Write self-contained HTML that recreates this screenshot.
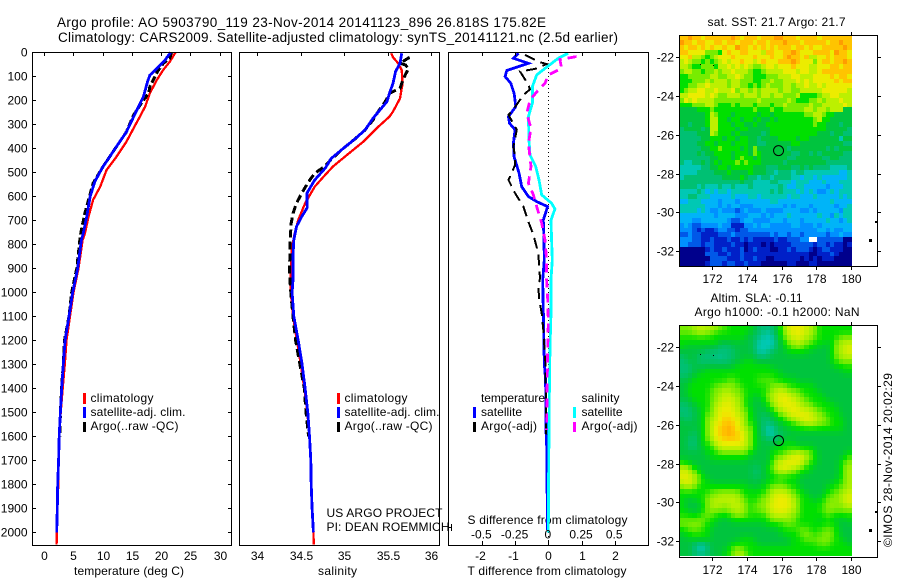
<!DOCTYPE html>
<html lang="en">
<head>
<meta charset="utf-8">
<title>Argo profile AO 5903790_119</title>
<style>
html,body{margin:0;padding:0;background:#fff;width:900px;height:580px;overflow:hidden}
svg{display:block;font-family:"Liberation Sans",sans-serif;font-size:12px;fill:#000}
.frame{fill:none;stroke:#000;stroke-width:1;shape-rendering:crispEdges}
.mark{fill:none;shape-rendering:crispEdges;stroke-linejoin:miter}
.tick{stroke:#000;stroke-width:1;shape-rendering:crispEdges}
.bar{shape-rendering:crispEdges}
</style>
</head>
<body>
<svg id="chart" xmlns="http://www.w3.org/2000/svg" width="900" height="580" viewBox="0 0 900 580">
  <rect x="0" y="0" width="900" height="580" fill="#fff"/>

  <text x="57" y="27" font-size="13.5" textLength="489" lengthAdjust="spacing">Argo profile: AO 5903790_119 23-Nov-2014 20141123_896 26.818S 175.82E</text>
  <text x="58" y="42" font-size="13.5" textLength="560" lengthAdjust="spacing">Climatology: CARS2009. Satellite-adjusted climatology: synTS_20141121.nc (2.5d earlier)</text>

  <g>
    <rect class="bar" x="83" y="393" width="3" height="11" fill="#ff0000"/>
    <rect class="bar" x="83" y="407" width="3" height="11" fill="#0000ff"/>
    <rect class="bar" x="83" y="422" width="3" height="10" fill="#000"/>
    <text x="90.5" y="402" textLength="63" lengthAdjust="spacing">climatology</text>
    <text x="90.5" y="416" textLength="95" lengthAdjust="spacing">satellite-adj. clim.</text>
    <text x="90.5" y="430" textLength="88" lengthAdjust="spacing">Argo(..raw -QC)</text>
  </g>
  <g>
    <rect class="bar" x="337" y="393" width="3" height="11" fill="#ff0000"/>
    <rect class="bar" x="337" y="407" width="3" height="11" fill="#0000ff"/>
    <rect class="bar" x="337" y="422" width="3" height="10" fill="#000"/>
    <text x="344.5" y="402" textLength="63" lengthAdjust="spacing">climatology</text>
    <text x="344.5" y="416" textLength="95" lengthAdjust="spacing">satellite-adj. clim.</text>
    <text x="344.5" y="430" textLength="88" lengthAdjust="spacing">Argo(..raw -QC)</text>
    <text x="326.5" y="517" textLength="116" lengthAdjust="spacing">US ARGO PROJECT</text>
    <text x="326.5" y="531" textLength="123" lengthAdjust="spacing">PI: DEAN ROEMMICH</text>
  </g>
  <g>
    <text x="481" y="402" textLength="64" lengthAdjust="spacing">temperature</text>
    <text x="481" y="416" textLength="41" lengthAdjust="spacing">satellite</text>
    <text x="481" y="430" textLength="56" lengthAdjust="spacing">Argo(-adj)</text>
    <text x="581.5" y="402" textLength="38" lengthAdjust="spacing">salinity</text>
    <text x="581.5" y="416" textLength="41" lengthAdjust="spacing">satellite</text>
    <text x="581.5" y="430" textLength="56" lengthAdjust="spacing">Argo(-adj)</text>
    <rect class="bar" x="473" y="407" width="3" height="11" fill="#0000ff"/>
    <rect class="bar" x="473" y="422" width="3" height="10" fill="#000"/>
    <rect class="bar" x="573" y="407" width="3" height="11" fill="#00ffff"/>
    <rect class="bar" x="573" y="422" width="3" height="10" fill="#ff00ff"/>
  </g>

  <text x="467.5" y="524" textLength="160" lengthAdjust="spacing">S difference from climatology</text>
  <text x="74" y="575" textLength="110" lengthAdjust="spacing">temperature (deg C)</text>
  <text x="318" y="575" textLength="39" lengthAdjust="spacing">salinity</text>
  <text x="467.5" y="575" textLength="159" lengthAdjust="spacing">T difference from climatology</text>

  <text x="707.5" y="26" textLength="138" lengthAdjust="spacing">sat. SST: 21.7 Argo: 21.7</text>
  <text x="710.5" y="302" textLength="92" lengthAdjust="spacing">Altim. SLA: -0.11</text>
  <text x="694.5" y="316" textLength="165" lengthAdjust="spacing">Argo h1000: -0.1 h2000: NaN</text>
  <text transform="translate(892 547) rotate(-90)" x="0" y="0" textLength="174" lengthAdjust="spacing">©IMOS 28-Nov-2014 20:02:29</text>

  <g id="marks"></g>
</svg>

<script>
/* ---------- temperature profiles ---------- */
const climTDepth = [0,39,73,115,170,226,268,317,372,435,490,560,615,685,755,782,900,1000,1100,1200,1300,1400,1500,1600,1700,1800,1900,2000,2050];
const climT = [22.5,21.5,20.4,19.3,18.1,17.3,16.4,15.3,14.1,12.4,10.7,9.6,8.4,7.6,7.0,6.6,5.9,5.05,4.45,3.85,3.55,3.2,2.85,2.6,2.5,2.45,2.28,2.17,2.15];
const satTDepth = [0,32,67,95,123,185,254,331,393,476,538,600,685,755,782,900,1000,1100,1200,1300,1400,1500,1600,1700,1800,1900,2000];
const satT = [21.65,20.7,19.3,18.1,17.7,17,15.6,14.1,12.4,10.1,8.7,7.9,7.3,6.7,6.4,5.76,4.9,4.27,3.6,3.3,3.02,2.8,2.6,2.5,2.34,2.28,2.17];
const argoTDepth = [0,25,46,80,143,170,200,262,331,393,476,504,546,615,670,740,775,900,1000,1100,1200,1300,1400,1500,1600];
const argoT = [21.8,21.5,20.4,19.4,18.1,17.9,17,15.3,14.1,12.4,10.1,9.4,8.4,7.6,7,6.4,6.15,5.6,4.73,4.27,3.5,3.3,3.0,2.8,2.7];

/* ---------- salinity profiles ---------- */
const climSDepth = [4,21,46,74,129,192,247,268,317,372,428,476,511,560,629,699,754,810,865,949,1000,1100,1200,1300,1400,1500,1600,1700,1800,1900,2000,2050];
const climS = [35.54,35.56,35.62,35.66,35.67,35.64,35.56,35.52,35.37,35.22,35.03,34.87,34.78,34.66,34.55,34.47,34.43,34.40,34.39,34.38,34.385,34.41,34.455,34.5,34.54,34.575,34.6,34.615,34.62,34.63,34.645,34.65];
const satSDepth = [4,46,80,129,171,206,240,275,323,362,400,442,483,532,587,622,647,685,726,782,851,949,1000,1100,1200,1300,1400,1500,1600,1700,1800,1900,2000];
const satS = [35.66,35.64,35.59,35.56,35.52,35.49,35.41,35.33,35.24,35.12,34.99,34.85,34.78,34.66,34.57,34.57,34.575,34.51,34.45,34.42,34.41,34.41,34.40,34.42,34.47,34.515,34.55,34.58,34.60,34.615,34.62,34.63,34.645];
const argoSDepth = [21,46,52,67,94,129,150,171,206,247,282,323,362,400,449,474,504,539,587,629,671,712,768,837,920,1000,1100,1200,1300,1400,1500,1600];
const argoS = [35.75,35.64,35.70,35.74,35.70,35.66,35.64,35.52,35.47,35.39,35.33,35.24,35.12,34.99,34.84,34.78,34.66,34.59,34.51,34.45,34.41,34.39,34.38,34.375,34.37,34.385,34.41,34.44,34.49,34.54,34.56,34.59];

/* ---------- difference profiles ---------- */
const diffTSatDepth = [4,25,46,76,101,129,171,226,268,296,323,379,435,504,560,601,622,643,699,782,865,949,1157,1296,1366,1574,1671,1990];
const diffTSat = [-0.9,-1.05,-0.6,-1.25,-1.3,-1.13,-1.03,-0.98,-1.2,-1.17,-1.0,-1.05,-1.03,-0.88,-0.8,-0.6,-0.35,-0.02,-0.15,-0.13,-0.12,-0.17,-0.14,-0.12,-0.08,-0.07,-0.04,-0.03];
const diffTArgoDepth = [11,39,49,69,80,136,154,178,247,261,323,393,435,469,532,587,643,706,761,837,942,977,1032,1087,1157,1310,1490,1608];
const diffTArgo = [-0.7,-0.3,-0.05,-0.4,-0.85,-0.6,-0.55,-0.75,-1.1,-1.2,-0.95,-1.05,-1,-1,-1.2,-1,-0.75,-0.6,-0.45,-0.3,-0.25,-0.3,-0.27,-0.2,-0.15,-0.08,-0.07,-0.06];
const diffSSatDepth = [4,25,67,94,143,212,268,365,428,476,532,594,629,653,699,782,865,946,1087,1226,1435,1782,2000];
const diffSSat = [0.15,0.075,-0.025,-0.0875,-0.12,-0.12,-0.15,-0.145,-0.1375,-0.095,-0.07,-0.05,0.025,0.05,0.02,0.025,0.03,0.02,0.02,0.0125,0.0075,0.0025,0];
const diffSArgoDepth = [18,30,67,94,129,157,199,254,317,379,476,546,594,657,712,782,865,946,1018,1120,1260,1435,1574];
const diffSArgo = [0.2125,0.0875,0.1,0,-0.025,-0.075,-0.1375,-0.1625,-0.13,-0.15,-0.13,-0.15,-0.1125,-0.08,-0.05,-0.025,-0.0125,-0.0125,-0.005,0,-0.005,-0.01,-0.0125];

/* ---------- tick labels ---------- */
const depthTicks = [0,100,200,300,400,500,600,700,800,900,1000,1100,1200,1300,1400,1500,1600,1700,1800,1900,2000];
const tempTicks = [0,5,10,15,20,25,30];
const salTicks = [34,34.5,35,35.5,36];
const diffTTicks = [-2,-1,0,1,2];
const diffSTicks = [-0.5,-0.25,0,0.25,0.5];
const lonTicks = [172,174,176,178,180];
const latTicks = [-22,-24,-26,-28,-30,-32];

/* ---------- float position ---------- */
const floatLon = 175.82;
const floatLat = -26.818;

/* ---------- colour levels for both maps, low to high, as r,g,b ---------- */
const levelColors = [[0,0,140],[0,32,200],[0,88,232],[0,144,255],[0,180,248],[0,200,180],[0,192,115],[0,196,62],[0,224,0],[120,236,0],[188,240,0],[236,236,0],[255,196,0],[255,156,0]];

/* ---------- SST map levels, north to south, west to east ---------- */
const sstGrid = [
[12,12,13,12,12,11,12,12,12,12,12,12,13,12,11,12,12,12,11,12,12,12,13,13,12,12,12,11,12,12,12,12,11,12,12,12,12,12,12,12],
[13,12,12,11,12,12,11,11,12,12,11,12,12,11,12,12,12,11,12,12,11,12,12,12,13,12,12,12,11,12,12,12,12,12,11,12,12,13,12,12],
[12,11,12,12,11,12,11,12,11,11,12,11,11,13,12,12,11,12,11,12,11,12,11,12,12,12,11,12,12,11,12,11,11,12,12,12,12,12,13,12],
[12,12,11,11,11,11,9,9,9,8,11,12,11,11,12,12,11,11,11,10,12,12,11,11,12,12,13,12,11,11,11,12,12,12,12,11,13,12,12,11],
[11,11,12,10,10,9,8,9,10,11,11,11,12,11,11,11,11,12,11,11,11,12,11,11,12,13,12,12,11,12,10,10,11,11,12,11,12,12,12,11],
[10,11,10,9,9,8,9,8,9,10,11,10,11,11,12,11,11,10,11,12,11,11,11,12,12,12,13,12,11,11,11,9,11,12,12,11,12,12,13,12],
[10,10,9,8,8,9,9,9,8,10,10,11,10,11,10,11,10,9,9,10,11,11,10,11,11,11,12,11,11,11,10,10,11,11,11,12,12,11,12,12],
[9,10,10,9,9,8,9,9,10,9,10,10,11,10,10,10,9,8,8,9,10,10,10,10,11,11,11,10,11,11,10,10,11,12,12,12,12,12,12,12],
[8,8,9,9,9,9,9,10,10,9,9,10,10,11,10,9,9,8,8,8,9,9,9,10,10,10,11,11,10,10,10,11,11,11,11,12,11,12,12,11],
[8,8,8,9,9,9,10,9,10,10,10,9,10,10,9,9,9,8,8,9,9,10,9,9,10,10,10,11,10,11,10,11,11,11,11,11,12,11,12,12],
[8,8,9,9,10,10,11,10,10,10,10,9,10,10,9,9,8,9,8,9,10,9,9,9,10,10,9,10,10,11,10,10,11,10,11,11,11,11,11,11],
[8,9,10,10,11,11,10,10,11,10,10,10,11,9,10,10,9,10,9,10,10,10,10,9,10,10,9,9,10,10,10,10,10,11,11,11,11,11,11,10],
[10,10,11,11,11,11,10,11,10,9,9,10,10,10,9,10,10,10,9,10,10,9,10,10,9,9,9,10,8,8,8,8,9,10,10,11,11,10,10,10],
[9,11,10,11,10,10,10,10,9,9,9,9,9,9,9,9,9,9,10,9,9,9,9,9,9,10,9,8,8,8,9,9,10,9,10,10,10,11,10,10],
[8,8,8,9,9,9,10,10,9,8,8,8,9,8,9,9,9,8,9,9,9,8,9,9,10,9,9,9,9,9,10,9,9,10,10,10,10,10,11,10],
[7,7,7,7,8,8,8,9,8,8,8,8,8,8,8,8,8,9,8,8,8,9,8,8,9,9,9,9,9,10,10,9,10,10,9,10,10,10,7,7],
[7,7,7,7,7,7,8,10,9,8,8,8,7,8,8,8,8,8,7,8,8,7,8,8,8,8,8,8,8,9,9,10,10,9,8,8,7,7,7,7],
[7,7,7,7,7,7,8,10,10,8,8,7,8,8,7,8,8,7,8,7,7,8,7,8,8,8,8,8,8,8,8,9,10,8,8,7,7,7,7,7],
[7,7,6,7,7,7,8,10,10,8,8,8,7,8,8,7,7,8,7,7,8,8,8,8,8,8,8,8,8,8,8,9,8,8,7,7,7,6,7,7],
[6,7,7,7,7,6,7,10,10,8,8,8,8,7,8,8,7,7,7,7,7,8,8,8,8,8,8,8,8,8,8,8,8,8,7,7,7,7,7,6],
[6,6,6,6,7,7,7,10,9,8,8,8,7,8,7,7,7,7,7,6,7,8,8,8,8,8,8,8,8,8,8,8,7,7,7,6,7,7,6,6],
[6,6,6,6,6,7,7,8,8,8,7,8,8,7,8,8,7,7,6,7,7,7,7,8,8,8,8,7,8,8,7,7,7,7,7,7,7,5,7,7],
[6,6,6,6,7,7,8,8,7,8,8,8,7,8,8,8,7,7,6,6,7,7,7,7,7,7,8,8,7,7,7,7,7,7,7,7,7,7,6,6],
[6,6,6,6,6,7,7,8,8,9,8,8,8,8,7,8,7,9,7,7,7,7,7,7,7,6,7,7,7,7,7,7,7,7,6,7,6,7,7,7],
[6,6,6,6,7,6,7,7,8,8,8,8,7,8,8,8,7,9,8,7,7,7,7,7,7,7,6,6,7,7,6,7,6,7,7,7,7,7,6,6],
[6,6,6,6,6,6,6,7,7,8,8,8,7,8,9,8,8,7,8,7,7,7,7,7,7,6,6,7,7,7,7,7,7,6,6,7,7,6,6,6],
[6,5,5,6,6,7,6,7,8,7,8,8,8,9,8,9,8,8,8,7,7,7,7,7,6,7,7,7,7,7,7,7,7,7,6,6,6,6,6,6],
[5,5,5,5,5,6,6,7,7,8,8,7,8,8,8,8,8,7,7,7,6,6,6,7,7,7,6,6,7,6,7,6,6,6,6,5,5,5,5,6],
[5,5,5,5,6,6,6,6,7,7,7,8,7,7,7,7,8,7,7,7,6,6,5,6,6,6,5,6,6,5,5,5,5,5,5,5,5,4,4,5],
[5,6,6,6,6,6,6,6,6,6,7,7,7,7,8,7,6,6,5,6,6,5,6,6,6,6,5,5,4,5,5,4,5,4,4,4,4,4,4,5],
[6,6,6,6,6,6,6,6,6,6,6,6,6,6,7,6,6,5,5,5,5,6,6,5,5,5,4,5,5,5,4,4,4,5,4,4,4,5,5,5],
[6,6,6,6,5,6,5,5,5,6,5,5,6,5,5,5,6,5,5,5,5,5,5,6,5,4,4,5,5,4,4,4,4,4,3,4,4,4,5,5],
[5,5,5,5,6,5,4,5,4,5,5,4,5,5,5,5,5,5,5,5,5,6,5,6,5,5,5,4,5,4,5,4,3,3,4,5,4,5,5,5],
[5,5,6,6,5,5,5,4,4,4,4,4,5,4,4,4,5,5,4,5,5,5,5,5,5,4,5,5,4,4,4,5,4,4,4,4,4,5,4,5],
[4,4,5,5,5,4,4,4,4,3,4,4,4,3,4,4,4,4,4,4,4,5,5,4,4,4,4,4,4,4,4,4,4,4,4,5,4,4,4,4],
[5,5,5,5,5,5,4,4,4,3,4,3,4,4,3,3,3,4,4,4,4,4,4,4,3,4,3,4,4,4,3,4,4,4,4,4,3,4,4,5],
[5,5,5,5,4,5,4,3,3,4,3,3,3,2,3,4,3,3,3,4,3,3,3,3,4,4,4,4,3,3,4,3,4,4,4,4,4,3,5,5],
[4,4,4,4,4,4,4,4,3,4,4,4,4,3,3,3,4,4,4,3,4,3,4,4,4,5,4,4,4,4,4,4,5,4,4,3,5,4,5,5],
[4,4,4,3,3,4,4,4,4,4,4,3,2,2,3,4,4,3,3,3,3,4,4,4,3,4,4,4,3,4,4,4,4,4,5,4,4,3,4,5],
[3,4,3,2,2,3,3,3,3,4,3,3,1,1,1,3,3,4,3,4,4,3,3,3,3,3,4,4,3,3,3,4,3,4,4,4,4,4,4,4],
[3,3,3,2,1,2,1,1,2,3,3,2,2,1,2,2,3,3,3,3,3,3,3,3,3,3,3,3,3,3,3,3,4,4,3,4,3,3,4,4],
[2,2,3,2,2,1,1,1,1,2,2,2,3,2,2,2,2,2,2,2,2,3,2,3,3,2,3,3,2,3,3,3,3,3,2,3,3,4,3,3],
[3,3,3,2,2,1,1,2,1,1,1,2,1,1,2,1,2,1,1,1,1,1,2,1,1,2,2,2,3,3,null,null,2,2,2,2,2,2,0,0],
[3,3,2,2,2,1,2,2,1,1,1,1,2,1,1,0,1,1,1,0,1,0,1,1,1,1,2,2,2,2,2,1,2,2,1,2,1,1,0,1],
[0,0,0,0,0,0,1,2,1,1,2,1,1,1,2,0,1,2,1,1,1,0,0,1,1,2,1,2,2,2,1,0,1,2,2,1,1,1,0,0],
[0,0,0,0,0,0,2,2,2,1,1,2,1,1,2,1,1,1,1,1,1,1,1,1,1,1,1,1,1,1,0,0,1,1,1,2,1,0,0,0],
[0,0,0,0,0,0,0,2,2,2,2,1,1,1,2,1,1,2,1,1,0,0,1,1,1,1,1,1,0,1,0,1,0,1,1,1,0,0,0,0],
[0,0,0,0,0,0,1,2,2,2,1,2,2,1,1,2,1,1,1,0,0,0,0,0,0,1,1,0,0,0,1,1,0,0,0,0,0,0,0,0]
];

/* ---------- sea level anomaly map levels, north to south, west to east ---------- */
const slaGrid = [
[9,9,9,10,10,10,10,10,10,9,9,8,8,8,8,8,8,7,6,6,6,6,7,8,10,11,11,11,11,10,10,9,8,8,8,8,8,8,8,8],
[9,9,9,9,10,10,9,9,8,8,8,8,8,8,8,8,7,7,6,6,5,6,7,8,9,10,11,11,11,10,10,9,8,8,8,8,8,8,8,8],
[8,8,8,8,8,8,8,8,8,8,8,8,8,8,8,7,7,6,6,5,5,5,6,8,9,10,10,11,10,10,9,9,8,8,8,8,8,9,9,9],
[8,8,8,8,8,8,8,8,8,7,7,7,7,7,7,7,7,6,5,5,5,5,6,7,8,9,10,10,10,9,9,8,8,8,7,8,9,10,10,10],
[8,7,7,7,7,7,7,7,7,6,6,6,7,7,7,7,7,6,5,5,5,5,6,7,8,8,9,9,9,8,8,8,7,7,7,8,9,10,10,11],
[7,7,7,7,7,7,6,6,6,6,6,6,6,7,7,7,7,6,5,5,6,6,7,7,7,8,8,8,8,8,7,7,7,7,7,8,9,10,10,11],
[6,7,7,7,6,6,6,6,6,5,6,6,6,7,7,7,7,7,6,6,6,7,7,7,7,7,7,7,7,7,7,7,7,7,7,8,9,10,10,10],
[6,6,7,7,6,6,6,6,6,6,6,6,7,7,7,8,8,7,7,7,7,7,7,7,7,7,7,7,7,7,7,7,7,7,7,8,8,9,9,9],
[6,6,6,7,7,7,7,7,7,7,7,7,7,8,8,8,8,8,8,8,8,7,7,7,7,7,7,7,7,7,7,7,7,7,7,7,8,8,8,8],
[6,6,6,7,7,7,8,8,8,8,8,8,8,8,8,8,8,8,8,8,8,8,8,7,7,7,7,7,7,7,7,7,7,7,7,7,7,7,8,8],
[6,6,7,7,8,8,8,8,8,8,8,8,8,8,8,8,8,8,8,8,8,8,8,8,7,7,7,7,7,7,7,7,7,7,7,7,7,7,7,7],
[7,7,7,8,8,8,8,8,8,8,8,9,9,8,8,8,8,8,9,9,9,9,8,8,8,8,8,7,7,7,7,7,7,7,7,7,7,7,7,7],
[7,7,8,8,8,8,8,8,9,9,9,9,9,9,8,8,8,8,8,8,8,9,9,9,9,8,8,8,8,8,8,7,7,7,7,7,7,7,7,7],
[7,7,8,8,8,8,8,9,9,9,10,10,9,9,9,8,8,8,8,8,9,9,10,10,10,9,9,9,8,8,8,8,7,7,7,7,7,7,7,7],
[7,7,8,8,8,8,8,9,9,10,10,10,10,9,9,8,8,7,8,8,9,10,10,11,11,10,10,9,9,8,8,8,8,7,7,7,7,7,7,7],
[7,7,7,8,8,8,8,9,9,10,10,11,10,10,9,8,8,7,7,8,9,10,10,11,11,11,10,10,9,9,8,8,8,8,7,7,7,7,7,7],
[6,6,7,7,8,8,8,9,10,10,11,11,10,10,9,8,7,7,7,7,8,9,10,11,11,11,11,10,10,9,9,8,8,8,8,8,7,7,7,7],
[6,6,6,7,7,8,8,9,10,11,11,11,11,10,9,9,8,7,7,7,8,8,9,10,10,11,11,11,10,10,10,9,9,8,8,8,8,7,7,7],
[6,6,6,7,7,8,9,9,10,11,11,11,11,10,10,9,8,7,7,6,7,7,8,9,10,10,11,11,11,11,10,10,9,9,8,8,8,7,7,7],
[7,6,6,7,7,8,9,10,10,11,12,12,11,11,10,9,8,7,7,6,6,7,7,8,8,9,10,10,11,11,11,10,10,9,9,8,8,8,7,7],
[7,7,7,7,7,8,9,10,11,11,12,12,12,11,10,9,8,8,7,6,6,6,7,7,8,8,8,9,9,10,10,10,9,9,9,8,8,8,7,7],
[7,7,7,7,7,8,9,10,11,12,12,13,12,11,10,10,9,8,7,6,5,5,6,7,7,7,8,8,8,8,8,8,8,8,8,8,8,8,7,7],
[7,7,7,6,7,8,9,10,11,12,12,13,12,12,11,10,9,8,7,6,5,5,6,6,7,7,7,7,7,7,7,7,7,7,7,7,7,7,7,7],
[7,7,6,6,7,8,9,10,11,11,12,12,12,12,11,10,9,8,7,7,6,6,6,7,7,7,7,7,7,7,7,7,7,7,7,7,7,7,7,7],
[7,7,6,6,7,8,8,9,10,11,11,11,11,11,11,10,9,8,7,7,7,7,7,7,8,8,8,7,7,7,7,7,7,7,7,7,7,7,7,7],
[7,7,6,6,7,7,8,8,9,10,10,10,10,10,10,10,9,8,7,7,7,7,8,8,8,8,8,8,8,8,8,7,7,7,7,7,7,7,7,7],
[7,7,7,7,7,7,8,8,8,9,9,9,9,9,9,9,8,7,7,7,7,8,8,8,9,9,10,10,10,9,9,8,7,7,7,7,7,7,7,8],
[7,7,7,7,7,7,7,8,8,8,8,8,8,8,8,8,7,7,7,7,7,8,9,9,10,10,11,11,11,10,9,8,7,7,7,7,7,7,8,9],
[8,8,7,7,7,7,7,7,7,7,7,7,7,7,7,7,7,7,7,7,7,8,10,10,11,11,11,11,10,9,8,8,7,7,7,7,7,8,9,9],
[10,10,9,8,7,7,7,7,7,7,7,7,7,7,7,7,7,6,7,7,8,9,10,11,11,11,10,10,9,8,8,7,7,7,7,7,7,8,9,10],
[10,11,10,9,8,7,7,7,7,7,7,7,7,7,7,7,7,6,6,7,8,8,9,10,10,9,9,8,8,8,7,7,7,7,7,7,7,8,9,10],
[11,11,10,10,9,8,7,7,7,7,7,7,7,7,7,7,7,6,7,7,7,8,8,8,8,8,8,8,7,7,7,7,7,7,7,7,7,8,9,10],
[10,11,11,10,9,8,8,7,7,7,7,7,7,7,7,7,7,7,7,7,8,8,8,9,8,8,8,7,7,7,7,7,7,7,7,7,8,8,9,10],
[9,10,10,9,8,8,8,8,8,8,8,8,8,8,8,8,7,7,7,8,8,9,9,9,9,8,8,8,7,7,7,7,7,7,8,8,8,9,9,10],
[8,8,8,8,8,8,8,9,9,9,9,9,9,9,8,8,8,8,8,8,9,10,10,10,10,10,9,8,8,7,7,7,7,7,8,8,9,9,10,10],
[8,8,8,8,8,8,9,9,9,10,10,10,10,10,9,8,8,8,8,9,9,10,11,11,11,10,9,9,8,8,7,7,7,8,9,9,9,10,10,11],
[8,7,7,7,8,8,9,10,10,10,10,10,10,10,9,9,8,8,9,9,10,10,11,11,11,11,10,9,8,8,8,7,8,8,9,9,9,10,10,11],
[8,7,7,7,7,8,9,10,10,10,9,10,10,10,10,9,8,9,9,9,10,11,11,11,11,11,10,9,8,8,8,8,8,9,9,10,9,9,10,10],
[8,8,7,7,7,8,9,9,9,9,9,9,10,10,10,9,8,9,9,9,10,10,11,11,11,10,10,9,8,8,8,8,8,9,9,9,9,9,9,9],
[8,8,8,8,8,9,9,9,8,8,8,8,9,9,9,9,8,8,8,8,9,10,10,10,10,10,9,9,8,8,8,8,8,8,9,8,8,8,8,8],
[9,9,9,9,9,9,8,8,8,7,7,7,8,8,8,8,8,8,8,8,8,9,9,9,9,9,9,8,8,8,8,8,7,8,8,8,7,7,7,8],
[9,9,9,9,9,9,8,8,7,7,7,7,7,7,7,7,7,7,7,7,8,8,8,8,9,9,9,8,8,8,8,8,8,8,8,8,8,7,7,7],
[8,8,9,9,9,8,8,7,7,7,7,7,7,7,7,7,7,7,7,7,7,7,7,8,8,8,8,9,9,9,8,8,8,9,9,9,8,7,7,7],
[7,8,8,8,8,8,8,7,7,7,7,7,7,7,7,7,7,7,7,7,7,7,7,7,8,8,8,8,9,9,9,8,9,9,9,9,8,7,7,7],
[7,7,7,8,8,8,8,7,7,7,7,7,7,7,8,8,8,7,7,7,7,7,7,7,7,7,8,8,8,9,9,9,9,9,9,9,8,8,7,7],
[7,7,7,6,5,5,6,7,7,7,7,7,8,8,8,8,8,8,7,7,7,7,7,7,7,7,8,8,8,8,8,8,9,9,9,8,8,8,8,7],
[7,7,7,6,5,5,6,7,7,7,7,8,9,9,9,8,8,8,8,8,8,8,8,8,8,8,8,8,8,8,8,8,8,8,8,8,8,8,8,8],
[7,7,7,6,6,6,6,7,7,7,8,8,9,10,10,9,8,8,8,8,8,8,8,8,8,8,8,8,8,8,8,8,8,8,8,8,8,8,8,8]
];

/* ---------- axis functions ---------- */
const depthY = d => 52.3 + 0.24 * d;
const tempX = t => 44 + 5.85 * t;
const salX = s => 257.3 + 87 * (s - 34);
const diffTX = t => 548.3 + 33.2 * t;
const diffSX = s => 548.3 + 132.8 * s;
const lonX = lon => 712.3 + 17.34 * (lon - 172);
const sstLatY = lat => 57.3 + 19.37 * (-22 - lat);
const slaLatY = lat => 347.3 + 19.37 * (-22 - lat);

const SVG_NS = 'http://www.w3.org/2000/svg';
const marks = document.getElementById('marks');

function node(tag, parent) {
  const el = document.createElementNS(SVG_NS, tag);
  parent.appendChild(el);
  return el;
}
function line(parent, x1, y1, x2, y2) {
  const el = node('line', parent);
  el.setAttribute('class', 'tick');
  el.setAttribute('x1', x1);
  el.setAttribute('y1', y1);
  el.setAttribute('x2', x2);
  el.setAttribute('y2', y2);
  return el;
}
function label(parent, x, y, txt, anchor) {
  const el = node('text', parent);
  el.setAttribute('x', x);
  el.setAttribute('y', y);
  el.setAttribute('text-anchor', anchor);
  el.textContent = txt;
  return el;
}
function profile(parent, depths, values, xFn, color, width, dash) {
  const el = node('polyline', parent);
  el.setAttribute('class', 'mark');
  el.setAttribute('points', values.map((v, i) => xFn(v).toFixed(1) + ',' + depthY(depths[i]).toFixed(1)).join(' '));
  el.setAttribute('stroke', color);
  el.setAttribute('stroke-width', width);
  if (dash) el.setAttribute('stroke-dasharray', dash);
  return el;
}
function levelColor(level) {
  const i = Math.max(0, Math.min(levelColors.length - 2, Math.floor(level)));
  const f = Math.max(0, Math.min(1, level - i));
  const a = levelColors[i];
  const b = levelColors[i + 1];
  return 'rgb(' + a.map((v, k) => Math.round(v + (b[k] - v) * f)).join(',') + ')';
}
/* the altimetry field is a smooth product: each cell is shown as a weighted mean with its neighbours */
function smoothedLevel(grid, r, c) {
  let sum = 0;
  let weight = 0;
  for (let dr = -1; dr <= 1; dr++) {
    for (let dc = -1; dc <= 1; dc++) {
      const row = grid[r + dr];
      if (!row || row[c + dc] === undefined || row[c + dc] === null) continue;
      const w = (dr === 0 ? 2 : 1) * (dc === 0 ? 2 : 1);
      sum += row[c + dc] * w;
      weight += w;
    }
  }
  return sum / weight;
}
function heatmap(parent, grid, latFn, lon0, lat0, smooth) {
  grid.forEach((row, r) => {
    const y0 = Math.round(latFn(lat0 - 0.248 * r));
    const y1 = Math.round(latFn(lat0 - 0.248 * (r + 1)));
    row.forEach((level, c) => {
      if (level === null) return;
      const x0 = Math.round(lonX(lon0 + 0.2485 * c));
      const x1 = Math.round(lonX(lon0 + 0.2485 * (c + 1)));
      const cell = node('rect', parent);
      
      
      cell.setAttribute('x', x0);
      cell.setAttribute('y', y0);
      cell.setAttribute('width', x1 - x0);
      cell.setAttribute('height', y1 - y0);
      cell.setAttribute('fill', levelColor(smooth ? smoothedLevel(grid, r, c) : level));
      cell.setAttribute('shape-rendering', 'crispEdges');
    });
  });
}
function speck(parent, x, y, w, h) {
  const el = node('rect', parent);
  el.setAttribute('x', x);
  el.setAttribute('y', y);
  el.setAttribute('width', w);
  el.setAttribute('height', h);
  el.setAttribute('fill', '#000');
  el.setAttribute('shape-rendering', 'crispEdges');
  return el;
}

/* ---------- temperature panel ---------- */
const tempPanel = node('g', marks);


const tempClimLine = profile(tempPanel, climTDepth, climT, tempX, '#ff0000', 2.3);


const tempArgoLine = profile(tempPanel, argoTDepth, argoT, tempX, '#000', 3, '7 3');


const tempSatLine = profile(tempPanel, satTDepth, satT, tempX, '#0000ff', 2.8);


const tempFrame = node('rect', tempPanel);
tempFrame.setAttribute('class', 'frame');
tempFrame.setAttribute('x', 32.5);
tempFrame.setAttribute('y', 52.5);
tempFrame.setAttribute('width', 199);
tempFrame.setAttribute('height', 493);


depthTicks.forEach(d => {
  const y = Math.round(depthY(d)) + 0.5;
  const tl = line(tempPanel, 32, y, 36, y);
  
  
  const tr = line(tempPanel, 228, y, 231, y);
  
  
  const lab = label(tempPanel, 27.5, y + 4, String(d), 'end');
  
  
});
tempTicks.forEach(t => {
  const x = Math.round(tempX(t)) + 0.5;
  const tk = line(tempPanel, x, 52, x, 56);
  
  
  const lab = label(tempPanel, x, 560, String(t), 'middle');
  
  
});

/* ---------- salinity panel ---------- */
const salPanel = node('g', marks);


const salClimLine = profile(salPanel, climSDepth, climS, salX, '#ff0000', 2.3);


const salArgoLine = profile(salPanel, argoSDepth, argoS, salX, '#000', 3, '8 4');


const salSatLine = profile(salPanel, satSDepth, satS, salX, '#0000ff', 2.8);


const salFrame = node('rect', salPanel);
salFrame.setAttribute('class', 'frame');
salFrame.setAttribute('x', 239.5);
salFrame.setAttribute('y', 52.5);
salFrame.setAttribute('width', 200);
salFrame.setAttribute('height', 493);


salTicks.forEach(s => {
  const x = Math.round(salX(s)) + 0.5;
  const tk = line(salPanel, x, 52, x, 56);
  
  
  const lab = label(salPanel, x, 560, String(s), 'middle');
  
  
});

/* ---------- difference panel ---------- */
const diffPanel = node('g', marks);


const zeroLine = line(diffPanel, diffTX(0), 52, diffTX(0), 545);
zeroLine.setAttribute('stroke-dasharray', '1 3');


const diffTSatLine = profile(diffPanel, diffTSatDepth, diffTSat, diffTX, '#0000ff', 2.8);


const diffTArgoLine = profile(diffPanel, diffTArgoDepth, diffTArgo, diffTX, '#000', 2, '11 6');


const diffSSatLine = profile(diffPanel, diffSSatDepth, diffSSat, diffSX, '#00ffff', 2.8);


const diffSArgoLine = profile(diffPanel, diffSArgoDepth, diffSArgo, diffSX, '#ff00ff', 2.8, '9 6');


const diffFrame = node('rect', diffPanel);
diffFrame.setAttribute('class', 'frame');
diffFrame.setAttribute('x', 448.5);
diffFrame.setAttribute('y', 52.5);
diffFrame.setAttribute('width', 200);
diffFrame.setAttribute('height', 493);


const cornerMarkH = line(diffPanel, 449, 527.5, 451, 527.5);


const cornerMarkV = line(diffPanel, 451.5, 524, 451.5, 531);


diffTTicks.forEach(t => {
  const x = Math.round(diffTX(t)) + 0.5;
  const top = line(diffPanel, x, 52, x, 56);
  
  
  const bot = line(diffPanel, x, 541, x, 545);
  
  
  const lab = label(diffPanel, x - (t < 0 ? 2 : 0), 560, String(t), 'middle');
  
  
});
diffSTicks.forEach(s => {
  const lab = label(diffPanel, diffSX(s) - 0.5, 538.5, String(s), 'middle');
  
  
});

/* ---------- SST map ---------- */
const sstMap = node('g', marks);


heatmap(sstMap, sstGrid, sstLatY, 170.1, -20.87, false);
const sstSpeckA = speck(sstMap, 700, 64, 1, 1);


const sstSpeckB = speck(sstMap, 713, 65, 1, 1);


const sstSpeckC = speck(sstMap, 875, 221, 2, 2);


const sstSpeckD = speck(sstMap, 869, 239, 3, 3);


const sstCircle = node('circle', sstMap);
sstCircle.setAttribute('cx', lonX(floatLon));
sstCircle.setAttribute('cy', sstLatY(floatLat));
sstCircle.setAttribute('r', 5);
sstCircle.setAttribute('fill', 'none');
sstCircle.setAttribute('stroke', '#000');


const sstFrame = node('rect', sstMap);
sstFrame.setAttribute('class', 'frame');
sstFrame.setAttribute('x', 679.5);
sstFrame.setAttribute('y', 35.5);
sstFrame.setAttribute('width', 198);
sstFrame.setAttribute('height', 231);


lonTicks.forEach(lon => {
  const x = Math.round(lonX(lon)) + 0.5;
  const top = line(sstMap, x, 32, x, 35);
  
  
  const bot = line(sstMap, x, 267, x, 270);
  
  
  const lab = label(sstMap, x, 283, String(lon), 'middle');
  
  
});
latTicks.forEach(lat => {
  const y = Math.round(sstLatY(lat)) + 0.5;
  const l = line(sstMap, 676, y, 679, y);
  
  
  const r = line(sstMap, 878, y, 881, y);
  
  
  const lab = label(sstMap, 674, y + 4, String(lat), 'end');
  
  
});

/* ---------- sea level anomaly map ---------- */
const slaMap = node('g', marks);


heatmap(slaMap, slaGrid, slaLatY, 170.1, -20.87, true);
const slaSpeckA = speck(slaMap, 700, 354, 1, 1);


const slaSpeckB = speck(slaMap, 713, 355, 1, 1);


const slaSpeckC = speck(slaMap, 875, 511, 2, 2);


const slaSpeckD = speck(slaMap, 869, 529, 3, 3);


const slaCircle = node('circle', slaMap);
slaCircle.setAttribute('cx', lonX(floatLon));
slaCircle.setAttribute('cy', slaLatY(floatLat));
slaCircle.setAttribute('r', 5);
slaCircle.setAttribute('fill', 'none');
slaCircle.setAttribute('stroke', '#000');


const slaFrame = node('rect', slaMap);
slaFrame.setAttribute('class', 'frame');
slaFrame.setAttribute('x', 679.5);
slaFrame.setAttribute('y', 325.5);
slaFrame.setAttribute('width', 198);
slaFrame.setAttribute('height', 232);


lonTicks.forEach(lon => {
  const x = Math.round(lonX(lon)) + 0.5;
  const top = line(slaMap, x, 322, x, 325);
  
  
  const bot = line(slaMap, x, 558, x, 561);
  
  
  const lab = label(slaMap, x, 574, String(lon), 'middle');
  
  
});
latTicks.forEach(lat => {
  const y = Math.round(slaLatY(lat)) + 0.5;
  const l = line(slaMap, 676, y, 679, y);
  
  
  const r = line(slaMap, 878, y, 881, y);
  
  
  const lab = label(slaMap, 674, y + 4, String(lat), 'end');
  
  
});
</script>
</body>
</html>
